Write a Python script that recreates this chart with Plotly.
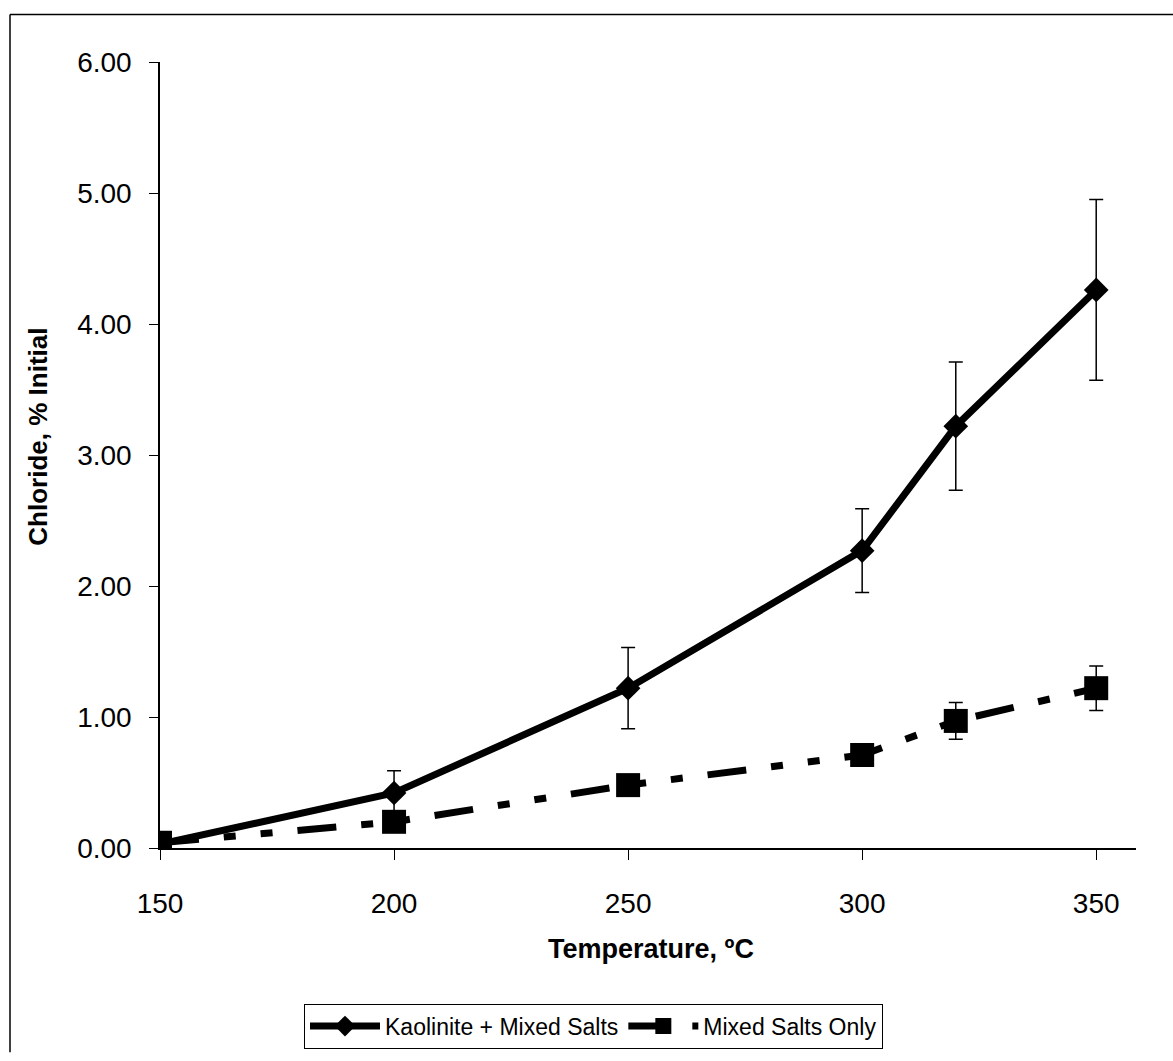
import plotly.graph_objects as go

temps = [150, 200, 250, 300, 320, 350]
kaolinite = [0.03, 0.42, 1.22, 2.27, 3.22, 4.26]
kaolinite_err = [0.0, 0.17, 0.31, 0.32, 0.49, 0.69]
mixed = [0.04, 0.20, 0.48, 0.71, 0.97, 1.22]
mixed_err = [0.0, 0.03, 0.05, 0.04, 0.14, 0.17]

x_ticks = [150, 200, 250, 300, 350]
y_ticks = [0, 1, 2, 3, 4, 5, 6]
y_tick_labels = ["0.00", "1.00", "2.00", "3.00", "4.00", "5.00", "6.00"]

FONT = "Arial, 'Liberation Sans', sans-serif"

fig = go.Figure()
fig.add_trace(go.Scatter(
    x=temps, y=kaolinite, name="Kaolinite + Mixed Salts", mode="lines+markers",
    line=dict(color="black", width=7),
    marker=dict(symbol="diamond", size=19, color="black"),
    error_y=dict(type="data", array=kaolinite_err, visible=True, color="black", thickness=1.5, width=7),
))
fig.add_trace(go.Scatter(
    x=temps, y=mixed, name="Mixed Salts Only", mode="lines+markers",
    line=dict(color="black", width=7, dash="39px,25px,12px,25px,12px,25px"),
    marker=dict(symbol="square", size=24, color="black"),
    error_y=dict(type="data", array=mixed_err, visible=True, color="black", thickness=1.5, width=7),
))

L, T, PW, PH = 160, 62, 976, 793
W, H = 1173, 1061

def px(xp):
    return (xp - L) / PW

def py(yp):
    return (T + PH - yp) / PH

fig.update_layout(
    width=W, height=H,
    margin=dict(l=L, r=W - L - PW, t=T, b=H - T - PH, pad=0),
    paper_bgcolor="white", plot_bgcolor="white",
    font=dict(family=FONT, color="black"),
    showlegend=True,
    legend=dict(
        orientation="h", x=px(304), y=py(1012), xanchor="left", yanchor="top",
        bordercolor="black", borderwidth=1, font=dict(size=23, family=FONT),
        itemwidth=70, bgcolor="white",
    ),
    xaxis=dict(
        range=[150, 358.5], tickvals=x_ticks, ticktext=[str(v) for v in x_ticks],
        showline=True, linecolor="black", linewidth=1.5, showgrid=False, zeroline=False,
        ticks="outside", ticklen=10, tickwidth=1, tickcolor="black",
        tickfont=dict(size=28, family=FONT), ticklabelstandoff=20,
    ),
    yaxis=dict(
        range=[0, 6], tickvals=y_ticks, ticktext=y_tick_labels,
        showline=True, linecolor="black", linewidth=1.5, showgrid=False, zeroline=False,
        ticks="outside", ticklen=9, tickwidth=1, tickcolor="black",
        tickfont=dict(size=28, family=FONT), ticklabelstandoff=12,
    ),
    annotations=[
        dict(text="<b>Chloride, % Initial</b>", textangle=-90, x=px(38), y=py(440),
             xref="paper", yref="paper", showarrow=False, font=dict(size=26, family=FONT),
             xanchor="center", yanchor="middle"),
        dict(text="<b>Temperature, ºC</b>", x=px(651), y=py(957),
             xref="paper", yref="paper", showarrow=False, font=dict(size=27, family=FONT),
             xanchor="center", yanchor="middle"),
    ],
    shapes=[
        dict(type="line", xref="paper", yref="paper", x0=px(10), x1=px(1173), y0=py(14), y1=py(14),
             line=dict(color="black", width=1.5)),
        dict(type="line", xref="paper", yref="paper", x0=px(10), x1=px(10), y0=py(14), y1=py(1061),
             line=dict(color="black", width=1.5)),
    ],
)

fig.write_html("out.html")
